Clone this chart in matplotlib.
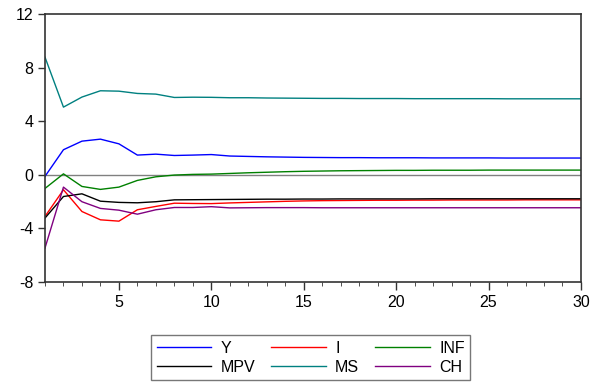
import matplotlib
matplotlib.use("Agg")
import matplotlib.pyplot as plt
import numpy as np

plt.rcParams['font.family'] = ['Liberation Sans', 'DejaVu Sans']
plt.rcParams['axes.unicode_minus'] = False

periods = np.arange(1, 31)

# impulse responses
y_resp = [-0.12, 1.87, 2.51, 2.66, 2.31, 1.47, 1.54, 1.44, 1.47, 1.51,
          1.40, 1.37, 1.34, 1.32, 1.30, 1.29, 1.28, 1.28, 1.27, 1.27,
          1.27, 1.26, 1.26, 1.26, 1.26, 1.25, 1.25, 1.25, 1.25, 1.25]
i_resp = [-3.11, -1.12, -2.74, -3.36, -3.46, -2.61, -2.36, -2.12, -2.14, -2.15,
          -2.10, -2.06, -2.02, -1.98, -1.95, -1.93, -1.92, -1.91, -1.90, -1.90,
          -1.89, -1.89, -1.88, -1.88, -1.88, -1.88, -1.87, -1.87, -1.87, -1.87]
inf_resp = [-1.02, 0.07, -0.87, -1.09, -0.92, -0.42, -0.15, -0.02, 0.03, 0.05,
            0.10, 0.15, 0.19, 0.23, 0.26, 0.28, 0.30, 0.31, 0.32, 0.33,
            0.33, 0.34, 0.34, 0.34, 0.35, 0.35, 0.35, 0.35, 0.35, 0.35]
mpv_resp = [-3.23, -1.62, -1.42, -1.97, -2.06, -2.09, -2.01, -1.87, -1.86, -1.85,
            -1.84, -1.83, -1.82, -1.82, -1.81, -1.81, -1.80, -1.80, -1.80, -1.80,
            -1.80, -1.79, -1.79, -1.79, -1.79, -1.79, -1.79, -1.79, -1.79, -1.79]
ms_resp = [8.78, 5.05, 5.80, 6.27, 6.24, 6.07, 6.02, 5.77, 5.79, 5.78,
           5.75, 5.75, 5.73, 5.72, 5.71, 5.70, 5.70, 5.69, 5.69, 5.69,
           5.68, 5.68, 5.68, 5.68, 5.68, 5.67, 5.67, 5.67, 5.67, 5.67]
ch_resp = [-5.47, -0.92, -2.01, -2.51, -2.64, -2.94, -2.61, -2.44, -2.44, -2.38,
           -2.47, -2.46, -2.45, -2.45, -2.45, -2.46, -2.46, -2.46, -2.46, -2.46,
           -2.46, -2.46, -2.46, -2.46, -2.46, -2.46, -2.46, -2.46, -2.46, -2.46]

names = ['Y', 'I', 'INF', 'MPV', 'MS', 'CH']
series = [y_resp, i_resp, inf_resp, mpv_resp, ms_resp, ch_resp]
colors = ['#0000ff', '#ff0000', '#008000', '#000000', '#008080', '#800080']

fig = plt.figure(figsize=(5.91, 3.82), dpi=100)
ax = fig.add_axes([0.0761, 0.2618, 0.9069, 0.7016])

ax.axhline(0, color='#808080', lw=1.0, zorder=1)
for nm, vals, c in zip(names, series, colors):
    ax.plot(periods, vals, color=c, lw=1.0, label=nm, zorder=2)

ax.set_xlim(1, 30)
ax.set_ylim(-8, 12)
ax.set_xticks([5, 10, 15, 20, 25, 30])
ax.set_xticks(np.arange(1, 31), minor=True)
ax.set_yticks([-8, -4, 0, 4, 8, 12])
ax.tick_params(axis='both', labelsize=11.5, direction='out', color='#333333', width=1.0)
ax.tick_params(axis='x', which='major', length=6)
ax.tick_params(axis='x', which='minor', length=3, color='#333333')
ax.tick_params(axis='y', length=5)
ax.tick_params(top=False, right=False)
for sp in ax.spines.values():
    sp.set_color('#333333')
    sp.set_linewidth(1.2)

# legend rows: Y I INF / MPV MS CH
h, l = ax.get_legend_handles_labels()
order = [0, 3, 1, 4, 2, 5]
leg = fig.legend([h[k] for k in order], [l[k] for k in order],
                 loc='upper center', bbox_to_anchor=(0.526, 0.123), ncol=3,
                 fontsize=11.5, frameon=True, fancybox=False, handlelength=3.4,
                 handletextpad=0.6, columnspacing=1.0, borderpad=0.35,
                 labelspacing=0.25, borderaxespad=0)
leg.get_frame().set_edgecolor('#555555')
leg.get_frame().set_linewidth(1.0)

fig.savefig('out.png', dpi=100)
